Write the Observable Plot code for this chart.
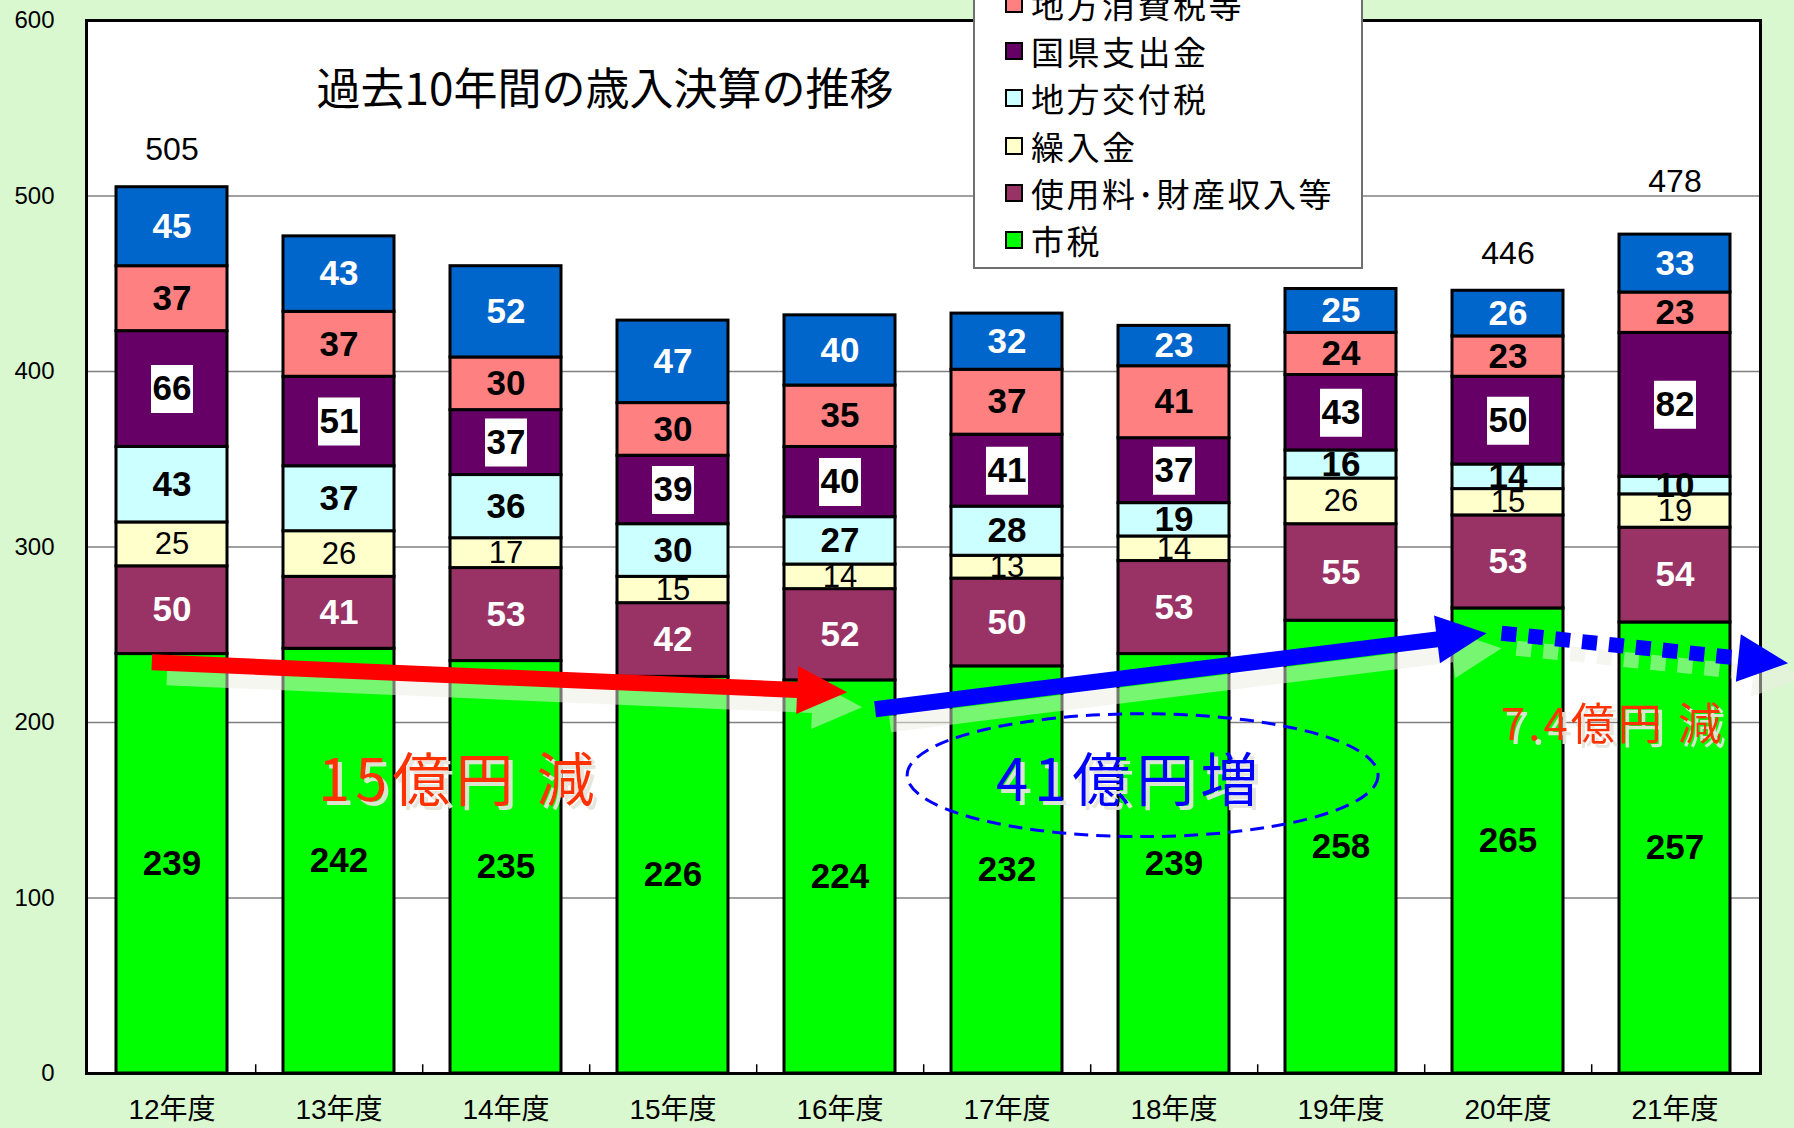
<!DOCTYPE html>
<html><head><meta charset="utf-8">
<script src="https://cdn.jsdelivr.net/npm/d3@7"></script>
<script src="https://cdn.jsdelivr.net/npm/@observablehq/plot@0.6"></script>
<style>
html,body{margin:0;padding:0;background:#d9f8d0;overflow:hidden}
#wrap{position:relative;width:1794px;height:1128px;overflow:hidden}
#legend{position:absolute;left:973px;top:-80px;width:390px;height:349px;background:#fff;border:2px solid #707070;box-sizing:border-box;font-family:'Noto Sans CJK JP',sans-serif;font-size:33px;color:#000}
#legend .item{position:absolute;left:30px;height:40px;display:flex;align-items:center;letter-spacing:2.5px;white-space:nowrap}
#legend .sw{width:14px;height:14px;border:2.5px solid #000;margin-right:8px;flex:none}
</style></head><body><div id="wrap"></div>
<script>
// ---- data ----
const years = ["12年度","13年度","14年度","15年度","16年度","17年度","18年度","19年度","20年度","21年度"];
const seriesNames = ["市税","使用料･財産収入等","繰入金","地方交付税","国県支出金","地方消費税等","その他"];
const seriesColors = ["#00ff00","#993366","#ffffcc","#ccffff","#660066","#ff8080","#0066cc"];
const shizei         = [239,242,235,226,224,232,239,258,265,257];
const shiyoryo       = [50,41,53,42,52,50,53,55,53,54];
const kurikomikin    = [25,26,17,15,14,13,14,26,15,19];
const kofuzei        = [43,37,36,30,27,28,19,16,14,10];
const kokenShishutsu = [66,51,37,39,40,41,37,43,50,82];
const shohizei       = [37,37,30,30,35,37,41,24,23,23];
const sonota         = [45,43,52,47,40,32,23,25,26,33];
const totalLabelYears = ["12年度","20年度","21年度"];
const yTicks = [0,100,200,300,400,500,600];
const gridTicks = [100,200,300,400,500];
const title = "過去10年間の歳入決算の推移";

const seriesValues = [shizei, shiyoryo, kurikomikin, kofuzei, kokenShishutsu, shohizei, sonota];
const rows = [];
years.forEach((yr, i) => seriesNames.forEach((s, j) => rows.push({year: yr, series: s, value: seriesValues[j][i]})));
const totals = years.map((yr, i) => ({year: yr, total: d3.sum(seriesValues, v => v[i])}))
  .filter(d => totalLabelYears.includes(d.year));

const sans = "'Liberation Sans',Arial,'Noto Sans CJK JP',sans-serif";
const cjk = "'Noto Sans CJK JP',sans-serif";

const boxSymbol = {draw(ctx) { ctx.rect(-21, -24, 42, 48); }};
const whiteText = new Set(["使用料･財産収入等","その他"]);

const stackOpts = {x: "year", y: "value", z: "series"};

const chart = Plot.plot({
  width: 1794, height: 1128,
  marginLeft: 86, marginRight: 34, marginTop: 20, marginBottom: 55,
  style: {background: "transparent", fontFamily: sans, overflow: "visible"},
  x: {domain: years, paddingInner: 0.337, paddingOuter: 0.1685, label: null},
  y: {domain: [0, 600], label: null},
  color: {domain: seriesNames, range: seriesColors},
  marks: [
    Plot.frame({fill: "white"}),
    Plot.gridY(gridTicks, {stroke: "#808080", strokeOpacity: 1, strokeWidth: 1.5}),
    Plot.ruleX(years.slice(0, -1), {x: d => d, dx: 83.7, y1: 0, y2: 5, stroke: "black", strokeWidth: 1.5}),
    Plot.barY(rows, Plot.stackY({...stackOpts, fill: "series", stroke: "black", strokeWidth: 3})),
    Plot.dot(rows, Plot.filter(d => d.series === "国県支出金", Plot.stackY({...stackOpts, symbol: boxSymbol, fill: "white", stroke: "none", r: 10}))),
    Plot.text(rows, Plot.filter(d => whiteText.has(d.series), Plot.stackY({...stackOpts, text: d => String(d.value), fill: "white", fontSize: 35, fontWeight: "bold", ariaLabel: "seglabel"}))),
    Plot.text(rows, Plot.filter(d => !whiteText.has(d.series) && d.series !== "繰入金", Plot.stackY({...stackOpts, text: d => String(d.value), fill: "black", fontSize: 35, fontWeight: "bold", ariaLabel: "seglabel"}))),
    Plot.text(rows, Plot.filter(d => d.series === "繰入金", Plot.stackY({...stackOpts, text: d => String(d.value), fill: "black", fontSize: 31, ariaLabel: "seglabel"}))),
    Plot.text(totals, {filter: d => d.year !== "21年度", x: "year", y: "total", text: d => String(d.total), dy: -37, fontSize: 32, fill: "black", letterSpacing: 5}),
    Plot.text(totals, {filter: d => d.year === "21年度", x: "year", y: "total", text: d => String(d.total), dy: -53, fontSize: 32, fill: "black", letterSpacing: 5}),
    Plot.axisY({ticks: yTicks, tickSize: 0, tickPadding: 32, fontSize: 24, label: null}),
    Plot.axisX({tickSize: 0, tickPadding: 26, fontSize: 28, label: null}),
    Plot.frame({stroke: "black", strokeWidth: 3})
  ]
});

const svg = d3.select(chart);
// condense segment labels (narrow bold look)
svg.selectAll('g[aria-label="seglabel"] text').each(function () {
  const t = this.getAttribute("transform") || "";
  this.setAttribute("transform", t + " scale(0.8,1)");
});

// ---- annotations (positioned through the chart's own scales) ----
const X = chart.scale("x"), Y = chart.scale("y");
const bw = X.bandwidth, step = X.step;
const px = (yr, f) => X.apply(yr) + bw / 2 + f * step;
const py = v => Y.apply(v);

const defs = svg.append("defs");
const f = defs.append("filter").attr("id", "tshadow").attr("x", "-10%").attr("y", "-10%").attr("width", "130%").attr("height", "130%");
f.append("feDropShadow").attr("dx", 4).attr("dy", 4).attr("stdDeviation", 0.6).attr("flood-color", "#e4e4da").attr("flood-opacity", 0.95);

const g = svg.append("g");

function blockArrow(x1, y1, x2, y2, t, L, W) {
  const dx = x2 - x1, dy = y2 - y1, len = Math.hypot(dx, dy);
  const ux = dx / len, uy = dy / len, nx = -uy, ny = ux;
  const bx = x2 - ux * L, by = y2 - uy * L;
  const p = [
    [x1 + nx * t / 2, y1 + ny * t / 2], [bx + nx * t / 2, by + ny * t / 2], [bx + nx * W / 2, by + ny * W / 2],
    [x2, y2], [bx - nx * W / 2, by - ny * W / 2], [bx - nx * t / 2, by - ny * t / 2], [x1 - nx * t / 2, y1 - ny * t / 2]
  ];
  return p.map(q => q.join(",")).join(" ");
}
const SH = 15, shadowFill = "#eeeee4", shadowOp = 0.5;

const red = [px("12年度", -0.118), py(234), px("16年度", 0.046), py(217)];
const blue = [px("16年度", 0.213), py(207.3), px("20年度", -0.125), py(250.6)];
const dot = [px("20年度", -0.036), py(250.6), px("21年度", 0.68), py(233.5)];

function dottedArrow(a, color, op, off) {
  const [x1, y1, x2, y2] = a.map(v => v + off);
  const len = Math.hypot(x2 - x1, y2 - y1), L = 50;
  const bx = x2 - (x2 - x1) / len * L, by = y2 - (y2 - y1) / len * L;
  g.append("line").attr("x1", x1).attr("y1", y1).attr("x2", bx).attr("y2", by)
    .attr("stroke", color).attr("stroke-width", 15).attr("stroke-dasharray", "15 12").attr("opacity", op);
  g.append("polygon").attr("points", blockArrow(x1, y1, x2, y2, 0, L, 48)).attr("fill", color).attr("opacity", op);
}

// shadows
g.append("polygon").attr("points", blockArrow(red[0] + SH, red[1] + SH, red[2] + SH, red[3] + SH, 16, 50, 48)).attr("fill", shadowFill).attr("opacity", shadowOp);
g.append("polygon").attr("points", blockArrow(blue[0] + SH, blue[1] + SH, blue[2] + SH, blue[3] + SH, 16, 50, 48)).attr("fill", shadowFill).attr("opacity", shadowOp);
dottedArrow(dot, shadowFill, shadowOp, SH);
// arrows
g.append("polygon").attr("points", blockArrow(...red, 16, 50, 48)).attr("fill", "#ff0000");
g.append("polygon").attr("points", blockArrow(...blue, 16, 50, 48)).attr("fill", "#0000ff");
dottedArrow(dot, "#0000ff", 1, 0);

// ellipse
g.append("ellipse").attr("cx", px("17年度", 0.815)).attr("cy", py(169.7)).attr("rx", 1.41 * step).attr("ry", py(0) - py(35))
  .attr("fill", "none").attr("stroke", "#0000ff").attr("stroke-width", 3).attr("stroke-dasharray", "14 8");

function bigText(str, x, y, size, color, ls) {
  g.append("text").text(str).attr("x", x).attr("y", y).attr("text-anchor", "middle").attr("dominant-baseline", "central")
    .attr("font-family", cjk).attr("font-size", size).attr("letter-spacing", ls).attr("fill", color).attr("filter", "url(#tshadow)");
}
bigText("15億円 減", px("13年度", 0.72), py(169), 58, "#ff3300", 5);
bigText("41億円増", px("17年度", 0.74), py(169), 58, "#0000ff", 6);
bigText("7.4億円 減", px("20年度", 0.63), py(200.5), 44, "#ff3300", 3);

// title
svg.append("text").text(title).attr("x", 605).attr("y", 86).attr("text-anchor", "middle").attr("dominant-baseline", "central")
  .attr("font-family", cjk).attr("font-size", 44).attr("fill", "#000");

const wrap = document.getElementById("wrap");
wrap.appendChild(chart);

// legend (top entry falls above the page, as in the reference)
const legend = d3.select(wrap).append("div").attr("id", "legend");
const legendOrder = seriesNames.slice().reverse().filter(s => s !== "その他");
legendOrder.forEach((s, i) => {
  const it = legend.append("div").attr("class", "item").style("top", (62 + i * 47.2) + "px");
  it.append("div").attr("class", "sw").style("background", seriesColors[seriesNames.indexOf(s)]);
  it.append("span").text(s);
});
</script></body></html>
